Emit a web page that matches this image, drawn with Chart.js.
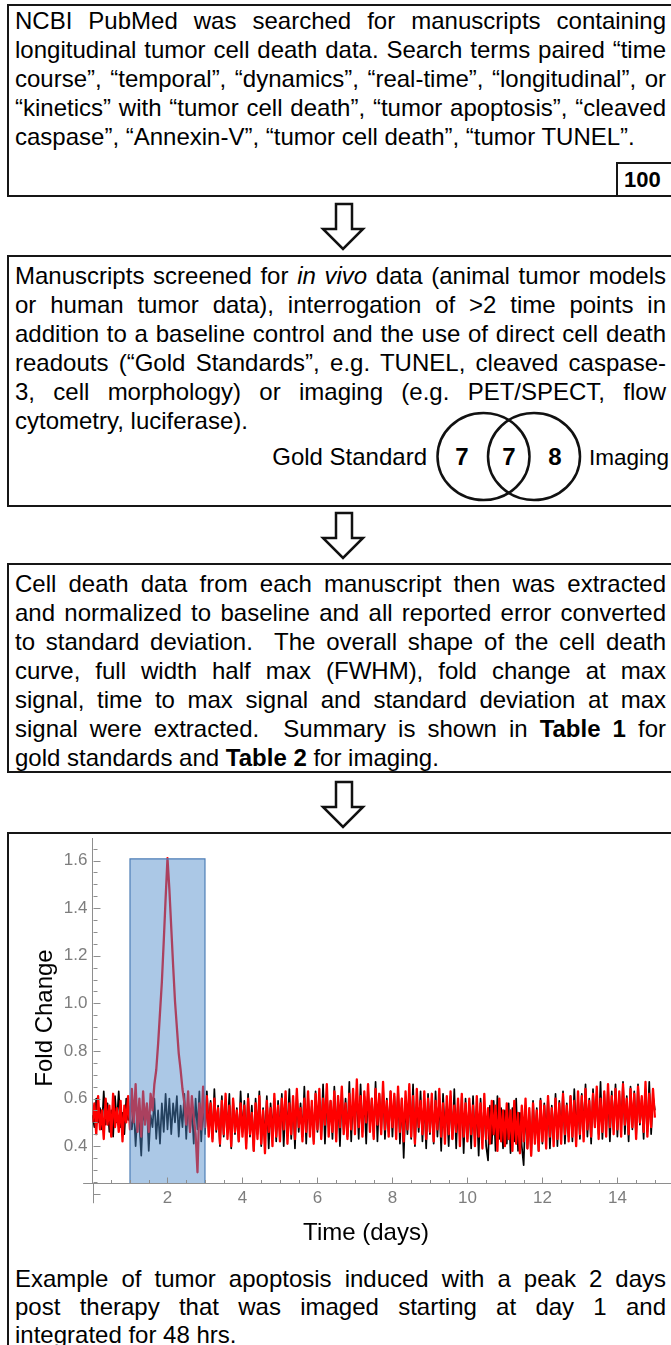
<!DOCTYPE html>
<html>
<head>
<meta charset="utf-8">
<script src="https://cdn.jsdelivr.net/npm/chart.js@4.4.1/dist/chart.umd.min.js"></script>
<style>
  html, body { margin: 0; padding: 0; background: #fff; }
  body { width: 671px; height: 1345px; position: relative; overflow: hidden;
         font-family: 'Liberation Sans', Arial, sans-serif; color: #000; }
  .box { position: absolute; left: 7px; width: 700px; border: 2.5px solid #161616; box-sizing: border-box; }
  .txt { position: absolute; left: 15px; width: 651px; font-size: 24px; line-height: 29px; }
  .txt div { text-align: justify; text-align-last: justify; }
  .txt div.last { text-align-last: left; }
  .count { position: absolute; left: 616px; top: 162px; width: 80px; height: 34px;
           border-left: 2.5px solid #161616; border-top: 2.5px solid #161616; box-sizing: border-box;
           font-weight: bold; font-size: 22px; line-height: 32px; padding-left: 6px; }
  .lbl { position: absolute; font-size: 24px; line-height: 29px; white-space: nowrap; }
  .num { position: absolute; font-size: 24px; font-weight: bold; line-height: 29px; transform: translateX(-50%); }
  svg.deco { position: absolute; left: 0; top: 0; }
  #chart { position: absolute; left: 0; top: 832px; }
</style>
</head>
<body>

<div class="box" style="top:4px;height:193px;"></div>
<div class="box" style="top:255px;height:252px;"></div>
<div class="box" style="top:563px;height:210px;"></div>
<div class="box" style="top:832px;height:600px;"></div>

<div class="txt" style="top:6px;">
  <div>NCBI PubMed was searched for manuscripts containing</div>
  <div>longitudinal tumor cell death data. Search terms paired “time</div>
  <div>course”, “temporal”, “dynamics”, “real-time”, “longitudinal”, or</div>
  <div>“kinetics” with “tumor cell death”, “tumor apoptosis”, “cleaved</div>
  <div class="last">caspase”, “Annexin-V”, “tumor cell death”, “tumor TUNEL”.</div>
</div>
<div class="count">100</div>

<div class="txt" style="top:261px;">
  <div>Manuscripts screened for <i>in vivo</i> data (animal tumor models</div>
  <div>or human tumor data), interrogation of &gt;2 time points in</div>
  <div>addition to a baseline control and the use of direct cell death</div>
  <div>readouts (“Gold Standards”, e.g. TUNEL, cleaved caspase-</div>
  <div>3, cell morphology) or imaging (e.g. PET/SPECT, flow</div>
  <div class="last">cytometry, luciferase).</div>
</div>
<div class="lbl" style="top:442px;right:244px;">Gold Standard</div>
<div class="lbl" style="top:443px;left:589px;font-size:22.5px;">Imaging</div>
<div class="num" style="top:442px;left:462px;">7</div>
<div class="num" style="top:442px;left:509px;">7</div>
<div class="num" style="top:442px;left:555px;">8</div>

<div class="txt" style="top:569px;">
  <div>Cell death data from each manuscript then was extracted</div>
  <div>and normalized to baseline and all reported error converted</div>
  <div>to standard deviation.&nbsp; The overall shape of the cell death</div>
  <div>curve, full width half max (FWHM), fold change at max</div>
  <div>signal, time to max signal and standard deviation at max</div>
  <div>signal were extracted.&nbsp; Summary is shown in <b>Table 1</b> for</div>
  <div class="last">gold standards and <b>Table 2</b> for imaging.</div>
</div>

<div class="txt" style="top:1265px;line-height:28px;">
  <div>Example of tumor apoptosis induced with a peak 2 days</div>
  <div>post therapy that was imaged starting at day 1 and</div>
  <div class="last">integrated for 48 hrs.</div>
</div>

<svg class="deco" width="671" height="1345" viewBox="0 0 671 1345">
  <g fill="#fff" stroke="#111" stroke-width="2.5" stroke-linejoin="miter">
    <polygon points="336,204 352,204 352,229 363,229 343,249 323,229 336,229"/>
    <polygon points="336,513 352,513 352,538 363,538 343,558 323,538 336,538"/>
    <polygon points="336,782 352,782 352,807 363,807 343,827 323,807 336,807"/>
  </g>
  <g fill="none" stroke="#111" stroke-width="2.5">
    <ellipse cx="483.5" cy="456.5" rx="46" ry="43.5"/>
    <ellipse cx="534" cy="456.5" rx="46" ry="43.5"/>
  </g>
</svg>

<canvas id="chart" width="671" height="430"></canvas>

<script>
// Sampling interval of both traces, in days
const SAMPLE_STEP = 0.05;

// Fold change of the induced-apoptosis signal (red), one value per sample from day 0 to day 15
const apoptosisSignal = [
  0.50,0.58,0.45,0.61,0.47,0.55,0.43,0.60,0.49,0.57,0.44,0.62,0.48,0.56,0.46,0.59,0.42,0.57,0.50,0.61,
  0.47,0.64,0.50,0.66,0.46,0.60,0.44,0.63,0.49,0.58,0.46,0.62,0.55,0.66,0.72,0.83,0.96,1.09,1.26,1.44,
  1.61,1.48,1.32,1.16,1.01,0.90,0.79,0.72,0.64,0.58,0.49,0.63,0.46,0.61,0.52,0.45,0.29,0.58,0.47,0.65,
  0.48,0.61,0.44,0.58,0.42,0.60,0.47,0.56,0.41,0.59,0.45,0.62,0.43,0.57,0.40,0.60,0.46,0.55,0.42,0.58,
  0.44,0.57,0.39,0.60,0.45,0.54,0.38,0.58,0.43,0.61,0.41,0.55,0.37,0.59,0.46,0.56,0.40,0.62,0.44,0.57,
  0.42,0.60,0.47,0.63,0.41,0.58,0.45,0.61,0.43,0.64,0.48,0.56,0.42,0.60,0.46,0.63,0.44,0.59,0.41,0.62,
  0.47,0.64,0.43,0.60,0.49,0.66,0.44,0.59,0.46,0.63,0.42,0.61,0.48,0.65,0.45,0.58,0.43,0.62,0.47,0.64,
  0.45,0.68,0.48,0.61,0.44,0.63,0.50,0.66,0.46,0.60,0.43,0.64,0.49,0.62,0.45,0.67,0.47,0.59,0.44,0.63,
  0.48,0.62,0.43,0.65,0.46,0.60,0.42,0.63,0.47,0.66,0.44,0.61,0.41,0.64,0.48,0.59,0.45,0.63,0.43,0.60,
  0.46,0.62,0.42,0.59,0.47,0.64,0.44,0.58,0.41,0.61,0.45,0.63,0.43,0.57,0.46,0.60,0.40,0.62,0.44,0.58,
  0.42,0.60,0.45,0.57,0.40,0.61,0.44,0.58,0.39,0.62,0.43,0.56,0.41,0.59,0.45,0.57,0.38,0.60,0.42,0.55,
  0.40,0.58,0.43,0.55,0.38,0.59,0.41,0.54,0.37,0.57,0.42,0.60,0.39,0.56,0.36,0.58,0.41,0.55,0.38,0.59,
  0.42,0.57,0.39,0.61,0.44,0.56,0.40,0.60,0.43,0.58,0.41,0.62,0.45,0.57,0.42,0.61,0.44,0.59,0.40,0.63,
  0.45,0.61,0.42,0.64,0.47,0.59,0.44,0.62,0.48,0.65,0.43,0.60,0.46,0.63,0.44,0.66,0.48,0.61,0.45,0.64,
  0.47,0.63,0.44,0.66,0.49,0.60,0.45,0.64,0.48,0.62,0.43,0.65,0.50,0.61,0.46,0.67,0.44,0.62,0.48,0.64,
  0.52
];

// Fold change of the untreated baseline (black), same sampling
const baselineSignal = [
  0.53,0.48,0.60,0.50,0.56,0.47,0.63,0.49,0.58,0.46,0.55,0.44,0.61,0.50,0.63,0.48,0.54,0.45,0.60,0.51,
  0.52,0.47,0.56,0.40,0.54,0.49,0.36,0.55,0.50,0.57,0.38,0.53,0.48,0.60,0.43,0.55,0.41,0.58,0.46,0.62,
  0.47,0.60,0.45,0.58,0.50,0.61,0.44,0.57,0.48,0.62,0.43,0.59,0.46,0.56,0.41,0.60,0.47,0.63,0.42,0.58,
  0.45,0.63,0.48,0.59,0.43,0.64,0.46,0.57,0.40,0.61,0.44,0.58,0.47,0.62,0.39,0.60,0.45,0.56,0.42,0.63,
  0.46,0.59,0.41,0.62,0.44,0.57,0.38,0.60,0.45,0.63,0.40,0.56,0.43,0.61,0.39,0.58,0.46,0.60,0.42,0.59,
  0.45,0.62,0.40,0.59,0.47,0.64,0.43,0.60,0.39,0.63,0.46,0.58,0.44,0.65,0.41,0.61,0.48,0.57,0.42,0.63,
  0.46,0.60,0.44,0.66,0.41,0.62,0.48,0.59,0.43,0.65,0.45,0.61,0.40,0.64,0.47,0.60,0.44,0.67,0.42,0.61,
  0.48,0.63,0.43,0.66,0.46,0.61,0.41,0.64,0.49,0.60,0.44,0.67,0.42,0.62,0.47,0.65,0.43,0.60,0.46,0.63,
  0.44,0.61,0.47,0.64,0.41,0.60,0.35,0.58,0.45,0.62,0.43,0.66,0.40,0.59,0.46,0.63,0.42,0.60,0.39,0.62,
  0.45,0.59,0.41,0.63,0.44,0.60,0.38,0.62,0.46,0.57,0.40,0.61,0.43,0.64,0.39,0.59,0.44,0.61,0.37,0.60,
  0.43,0.58,0.39,0.61,0.42,0.57,0.36,0.60,0.44,0.56,0.40,0.34,0.57,0.41,0.59,0.38,0.61,0.43,0.56,0.39,
  0.55,0.41,0.58,0.37,0.56,0.42,0.60,0.38,0.54,0.40,0.32,0.57,0.39,0.55,0.36,0.59,0.42,0.56,0.38,0.60,
  0.41,0.58,0.44,0.61,0.39,0.57,0.43,0.62,0.40,0.59,0.45,0.63,0.41,0.58,0.44,0.61,0.42,0.64,0.46,0.60,
  0.43,0.62,0.47,0.66,0.44,0.60,0.41,0.64,0.48,0.61,0.45,0.67,0.43,0.62,0.46,0.65,0.42,0.63,0.47,0.66,
  0.44,0.62,0.48,0.67,0.45,0.61,0.42,0.65,0.47,0.63,0.44,0.66,0.49,0.60,0.43,0.64,0.46,0.67,0.45,0.61,
  0.55
];

// Imaging window: starts at day 1, integrates 48 h, shaded up to its top value
const imagingWindow = { startDay: 1, endDay: 3, top: 1.607 };

// Axis ranges and labelled ticks
const Y_MIN = 0.245, Y_MAX = 1.695, Y_AXIS_FLOOR = 0.16;
const X_MIN = 0, X_MAX = 15.43, X_AXIS_START = -0.25;
const xTickValues = [2, 4, 6, 8, 10, 12, 14];
const xTickLabels = ['2', '4', '6', '8', '10', '12', '14'];
const yTickValues = [0.4, 0.6, 0.8, 1.0, 1.2, 1.4, 1.6];
const yTickLabels = ['0.4', '0.6', '0.8', '1.0', '1.2', '1.4', '1.6'];

const FONT = "'Liberation Sans', Arial, sans-serif";
const AXIS_GRAY = '#8e8e8e';
const LABEL_GRAY = '#7d7d7d';

const toPoints = values => values.map((v, i) => ({ x: i * SAMPLE_STEP, y: v }));

const windowOutline = [
  { x: imagingWindow.startDay, y: Y_MIN },
  { x: imagingWindow.startDay, y: imagingWindow.top },
  { x: imagingWindow.endDay, y: imagingWindow.top },
  { x: imagingWindow.endDay, y: Y_MIN }
];

// Inward-pointing ticks, axis stubs and the two axis titles
const insideTicks = {
  id: 'insideTicks',
  afterDraw(chart) {
    const { ctx, chartArea } = chart;
    const xs = chart.scales.x, ys = chart.scales.y;
    const x0 = Math.round(xs.getPixelForValue(0)) + 0.5;
    const yb = Math.round(chartArea.bottom) + 0.5;
    ctx.save();
    ctx.strokeStyle = AXIS_GRAY;
    ctx.lineWidth = 1;
    ctx.beginPath();
    ctx.moveTo(x0, yb);
    ctx.lineTo(x0, ys.getPixelForValue(Y_AXIS_FLOOR));
    ctx.moveTo(xs.getPixelForValue(X_AXIS_START), yb);
    ctx.lineTo(x0, yb);
    for (let k = 4; k <= 33; k++) {
      const py = Math.round(ys.getPixelForValue(k * 0.05)) + 0.5;
      ctx.moveTo(x0, py);
      ctx.lineTo(x0 + (k % 4 === 0 ? 7 : 4), py);
    }
    for (let k = 1; k <= 30; k++) {
      const px = Math.round(xs.getPixelForValue(k * 0.5)) + 0.5;
      ctx.moveTo(px, yb);
      ctx.lineTo(px, yb - (k % 4 === 0 ? 6 : 3.5));
    }
    ctx.stroke();
    ctx.fillStyle = '#000';
    ctx.font = '24px ' + FONT;
    ctx.textAlign = 'center';
    ctx.textBaseline = 'middle';
    ctx.fillText('Time (days)', 366, 401);
    ctx.translate(45, 186);
    ctx.rotate(-Math.PI / 2);
    ctx.fillText('Fold Change', 0, 0);
    ctx.restore();
  }
};

new Chart(document.getElementById('chart'), {
  type: 'line',
  data: {
    datasets: [
      {
        label: 'Imaging window',
        data: windowOutline,
        borderColor: '#4c7db6',
        borderWidth: 1.2,
        backgroundColor: 'rgba(77,138,202,0.47)',
        fill: 'origin',
        pointRadius: 0,
        tension: 0
      },
      {
        label: 'Tumor apoptosis',
        data: toPoints(apoptosisSignal),
        borderColor: '#ff0000',
        borderWidth: 2.3,
        borderJoinStyle: 'round',
        pointRadius: 0,
        fill: false,
        tension: 0
      },
      {
        label: 'Baseline',
        data: toPoints(baselineSignal),
        borderColor: '#000000',
        borderWidth: 1.7,
        borderJoinStyle: 'round',
        pointRadius: 0,
        fill: false,
        tension: 0
      }
    ]
  },
  options: {
    responsive: false,
    animation: false,
    events: [],
    layout: { padding: { left: 10, right: 0, top: 6, bottom: 0 } },
    plugins: { legend: { display: false }, tooltip: { enabled: false } },
    scales: {
      x: {
        type: 'linear',
        min: X_MIN,
        max: X_MAX,
        grid: { display: false, drawTicks: false },
        border: { display: true, color: AXIS_GRAY, width: 1 },
        ticks: {
          color: LABEL_GRAY,
          font: { family: FONT, size: 17 },
          padding: 5,
          maxRotation: 0,
          autoSkip: false,
          callback: v => xTickLabels[xTickValues.indexOf(v)] ?? ''
        },
        afterBuildTicks: s => { s.ticks = xTickValues.map(v => ({ value: v })); },
        afterFit: s => { s.height = 79; s.paddingLeft = 0; s.paddingRight = 0; }
      },
      y: {
        type: 'linear',
        min: Y_MIN,
        max: Y_MAX,
        grid: { display: false, drawTicks: false },
        border: { display: true, color: AXIS_GRAY, width: 1 },
        ticks: {
          color: LABEL_GRAY,
          font: { family: FONT, size: 17 },
          padding: 5,
          callback: v => {
            const i = yTickValues.findIndex(t => Math.abs(t - v) < 1e-6);
            return i >= 0 ? yTickLabels[i] : '';
          }
        },
        title: { display: false },
        afterBuildTicks: s => { s.ticks = yTickValues.map(v => ({ value: v })); },
        afterFit: s => { s.width = 82.5; s.paddingTop = 0; s.paddingBottom = 0; }
      }
    }
  },
  plugins: [insideTicks]
});
</script>
</body>
</html>
